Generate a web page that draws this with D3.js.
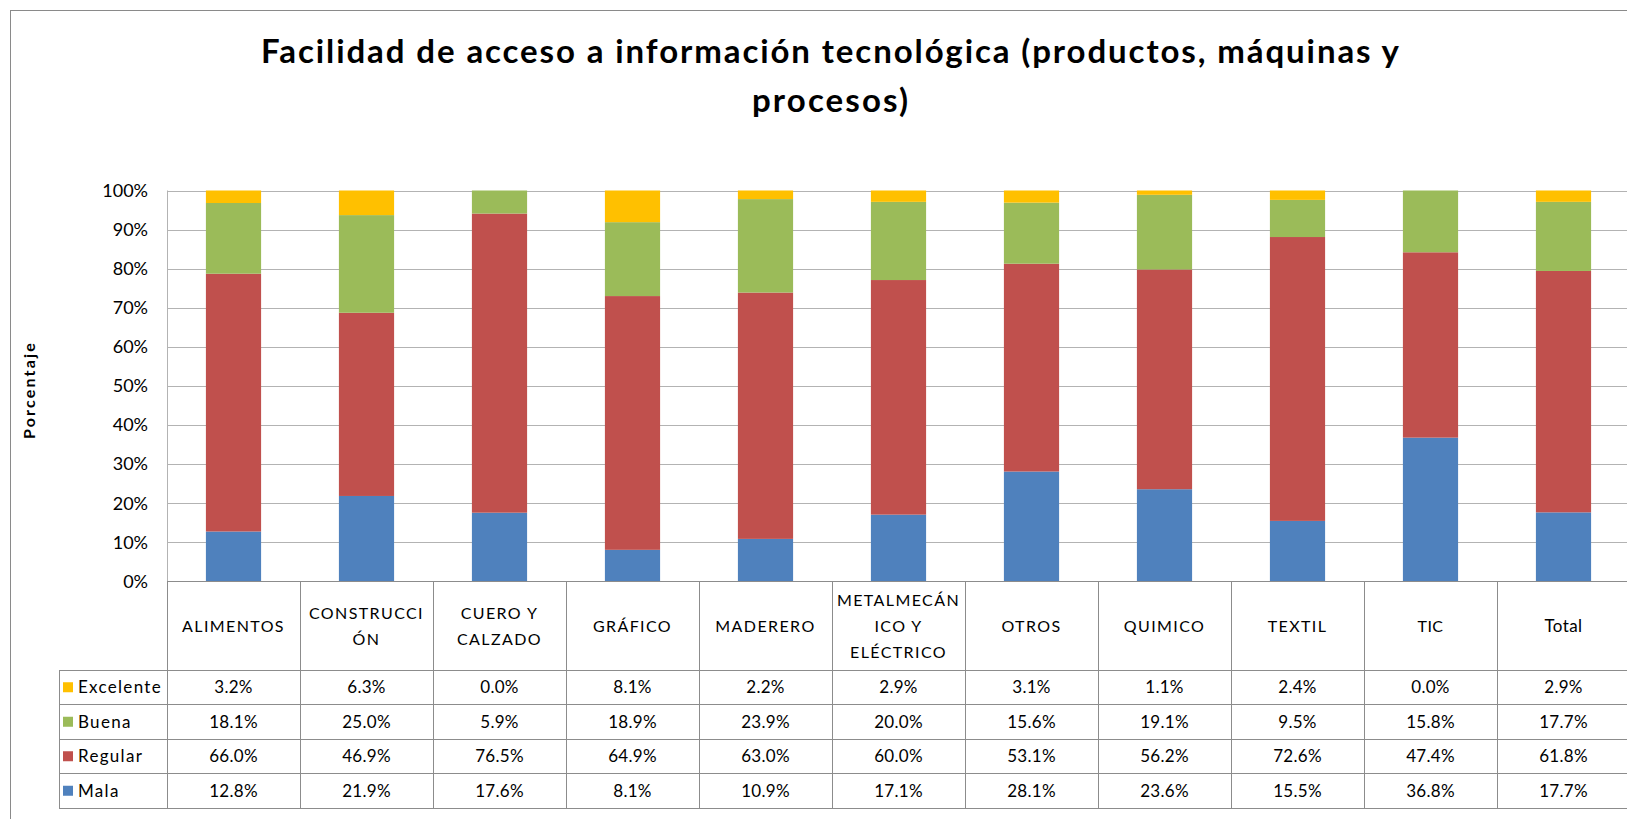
<!DOCTYPE html>
<html>
<head>
<meta charset="utf-8">
<script src="https://cdn.jsdelivr.net/npm/d3@7"></script>
<style>
  body { margin: 0; background: #fff; }
  svg { display: block; font-family: Lato, "Open Sans", sans-serif; }
</style>
</head>
<body>
<div id="chart"></div>
<script>
// categories, line breaks as in the original table header
const categories = [
  "ALIMENTOS", "CONSTRUCCI\nÓN", "CUERO Y\nCALZADO", "GRÁFICO", "MADERERO",
  "METALMECÁN\nICO Y\nELÉCTRICO", "OTROS", "QUIMICO", "TEXTIL", "TIC", "Total"
];
const excelente = [3.2, 6.3, 0.0, 8.1, 2.2, 2.9, 3.1, 1.1, 2.4, 0.0, 2.9];
const buena = [18.1, 25.0, 5.9, 18.9, 23.9, 20.0, 15.6, 19.1, 9.5, 15.8, 17.7];
const regular = [66.0, 46.9, 76.5, 64.9, 63.0, 60.0, 53.1, 56.2, 72.6, 47.4, 61.8];
const mala = [12.8, 21.9, 17.6, 8.1, 10.9, 17.1, 28.1, 23.6, 15.5, 36.8, 17.7];
const seriesNames = ["Excelente", "Buena", "Regular", "Mala"]; // table order
const colors = { Excelente: "#FFC000", Buena: "#9BBB59", Regular: "#C0504D", Mala: "#4F81BD" };
const titleLines = ["Facilidad de acceso a información tecnológica (productos, máquinas y", "procesos)"];
const yLabel = "Porcentaje";

const width = 1627, height = 819;
const plotLeft = 167, plotRight = 1630, plotTop = 190.5, plotBottom = 581.5;
const headerBottom = 670, rowH = 34.5, legendLeft = 59;
const gridColor = "#b3b3b3", lineColor = "#8c8c8c";

const series = { Excelente: excelente, Buena: buena, Regular: regular, Mala: mala };
const rows = categories.map((c, i) => {
  const r = { cat: c };
  seriesNames.forEach((s) => (r[s] = series[s][i]));
  return r;
});

const stack = d3.stack()
  .keys(["Mala", "Regular", "Buena", "Excelente"])
  .offset(d3.stackOffsetExpand)(rows);

const x = d3.scaleBand().domain(categories).range([plotLeft, plotRight]).padding(0);
const y = d3.scaleLinear().domain([0, 1]).range([plotBottom, plotTop]);
const barW = x.bandwidth() * 0.415;

const svg = d3.select("#chart").append("svg")
  .attr("width", width)
  .attr("height", height);

// outer chart frame (cropped at right and bottom)
svg.append("rect")
  .attr("x", 10.5).attr("y", 10.5)
  .attr("width", 1700).attr("height", 900)
  .attr("fill", "#fff")
  .attr("stroke", "#8a8a8a");

// title
svg.append("g")
  .selectAll("text")
  .data(titleLines)
  .join("text")
  .attr("x", 830)
  .attr("y", (d, i) => 63 + i * 49)
  .attr("text-anchor", "middle")
  .attr("font-size", 33)
  .attr("font-weight", "bold")
  .attr("textLength", (d, i) => (i === 0 ? 1138 : 156))
  .attr("lengthAdjust", "spacing")
  .text((d) => d);

// gridlines + y ticks
const yAxis = d3.axisLeft(y).ticks(10).tickFormat(d3.format(".0%")).tickSize(0).tickPadding(19);
const gy = svg.append("g").attr("transform", `translate(${plotLeft},0)`).call(yAxis);
gy.select(".domain").remove();
gy.selectAll("text").attr("font-size", 18).attr("font-family", "Lato").attr("fill", "#000");

svg.append("g")
  .selectAll("line")
  .data(y.ticks(10).filter((d) => d > 0))
  .join("line")
  .attr("x1", plotLeft).attr("x2", plotRight)
  .attr("y1", (d) => Math.round(y(d)) + 0.5).attr("y2", (d) => Math.round(y(d)) + 0.5)
  .attr("stroke", gridColor);

svg.append("line")
  .attr("x1", plotLeft + 0.5).attr("x2", plotLeft + 0.5)
  .attr("y1", plotTop).attr("y2", plotBottom)
  .attr("stroke", gridColor);

// y label
svg.append("text")
  .attr("transform", `translate(35,${(plotTop + plotBottom) / 2 + 4}) rotate(-90)`)
  .attr("text-anchor", "middle")
  .attr("font-size", 16)
  .attr("font-weight", "bold")
  .attr("letter-spacing", 2.2)
  .text(yLabel);

// stacked bars
svg.append("g")
  .selectAll("g")
  .data(stack)
  .join("g")
  .attr("fill", (d) => colors[d.key])
  .selectAll("rect")
  .data((d) => d)
  .join("rect")
  .attr("x", (d) => x(d.data.cat) + (x.bandwidth() - barW) / 2)
  .attr("width", barW)
  .attr("y", (d) => y(d[1]))
  .attr("height", (d) => y(d[0]) - y(d[1]));

// data table
const table = svg.append("g").attr("stroke", lineColor).attr("shape-rendering", "crispEdges");
const rowYs = d3.range(seriesNames.length + 1).map((i) => headerBottom + i * rowH);

table.append("line")
  .attr("x1", plotLeft).attr("x2", plotRight)
  .attr("y1", plotBottom).attr("y2", plotBottom);
table.selectAll(".hrow")
  .data(rowYs)
  .join("line")
  .attr("class", "hrow")
  .attr("x1", legendLeft).attr("x2", plotRight)
  .attr("y1", (d) => d).attr("y2", (d) => d);
table.selectAll(".vcol")
  .data(categories)
  .join("line")
  .attr("class", "vcol")
  .attr("x1", (d) => x(d)).attr("x2", (d) => x(d))
  .attr("y1", plotBottom).attr("y2", rowYs[rowYs.length - 1]);
table.append("line")
  .attr("x1", legendLeft).attr("x2", legendLeft)
  .attr("y1", headerBottom).attr("y2", rowYs[rowYs.length - 1]);

// header labels
const header = svg.append("g")
  .selectAll("text")
  .data(categories)
  .join("text")
  .attr("text-anchor", "middle")
  .attr("font-size", (d) => (d === "Total" ? 17 : 16))
  .attr("letter-spacing", (d) => (d === "Total" || d === "TIC" ? 0.4 : 1.4))
  .attr("x", (d) => x(d) + x.bandwidth() / 2);
header.each(function (d) {
  const lines = d.split("\n");
  const mid = (plotBottom + headerBottom) / 2 + 6;
  d3.select(this)
    .selectAll("tspan")
    .data(lines)
    .join("tspan")
    .attr("x", x(d) + x.bandwidth() / 2)
    .attr("y", (l, i) => mid + (i - (lines.length - 1) / 2) * 26)
    .text((l) => l);
});

// legend keys + row labels
const legend = svg.append("g")
  .selectAll("g")
  .data(seriesNames)
  .join("g")
  .attr("transform", (d, i) => `translate(${legendLeft},${headerBottom + i * rowH + rowH / 2})`);
legend.append("rect")
  .attr("x", 4).attr("y", -5)
  .attr("width", 10).attr("height", 10)
  .attr("fill", (d) => colors[d]);
legend.append("text")
  .attr("x", 19).attr("dy", "0.36em")
  .attr("font-size", 17)
  .attr("letter-spacing", 1.3)
  .text((d) => d);

// values
const fmt = (v) => d3.format(".1f")(v) + "%";
svg.append("g")
  .selectAll("g")
  .data(seriesNames)
  .join("g")
  .attr("transform", (d, i) => `translate(0,${headerBottom + i * rowH + rowH / 2})`)
  .selectAll("text")
  .data((s) => series[s])
  .join("text")
  .attr("x", (v, i) => x(categories[i]) + x.bandwidth() / 2)
  .attr("dy", "0.36em")
  .attr("text-anchor", "middle")
  .attr("font-size", 17)
  .attr("letter-spacing", 0.3)
  .text((v) => fmt(v));
</script>
</body>
</html>
